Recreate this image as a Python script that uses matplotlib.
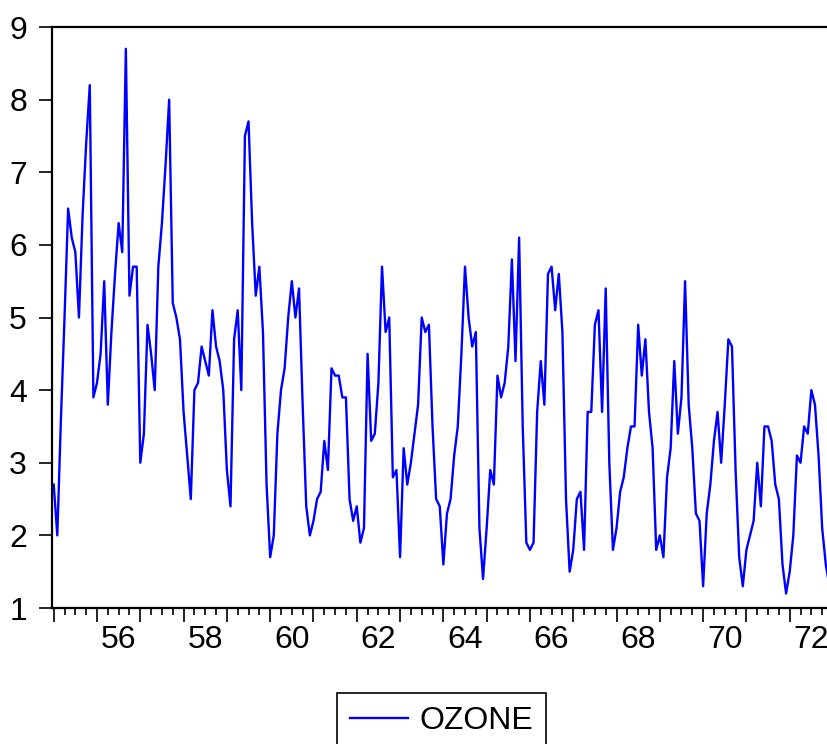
import matplotlib
matplotlib.use('Agg')
import matplotlib.pyplot as plt
from matplotlib.ticker import FixedLocator
import numpy as np

plt.rcParams['font.family'] = ['Liberation Sans', 'DejaVu Sans']

# monthly ozone readings, Jan 1955 .. Dec 1972
oz55 = [2.7, 2.0, 3.6, 5.0, 6.5, 6.1, 5.9, 5.0, 6.4, 7.4, 8.2, 3.9]
oz56 = [4.1, 4.5, 5.5, 3.8, 4.8, 5.6, 6.3, 5.9, 8.7, 5.3, 5.7, 5.7]
oz57 = [3.0, 3.4, 4.9, 4.5, 4.0, 5.7, 6.3, 7.1, 8.0, 5.2, 5.0, 4.7]
oz58 = [3.7, 3.1, 2.5, 4.0, 4.1, 4.6, 4.4, 4.2, 5.1, 4.6, 4.4, 4.0]
oz59 = [2.9, 2.4, 4.7, 5.1, 4.0, 7.5, 7.7, 6.3, 5.3, 5.7, 4.8, 2.7]
oz60 = [1.7, 2.0, 3.4, 4.0, 4.3, 5.0, 5.5, 5.0, 5.4, 3.8, 2.4, 2.0]
oz61 = [2.2, 2.5, 2.6, 3.3, 2.9, 4.3, 4.2, 4.2, 3.9, 3.9, 2.5, 2.2]
oz62 = [2.4, 1.9, 2.1, 4.5, 3.3, 3.4, 4.1, 5.7, 4.8, 5.0, 2.8, 2.9]
oz63 = [1.7, 3.2, 2.7, 3.0, 3.4, 3.8, 5.0, 4.8, 4.9, 3.5, 2.5, 2.4]
oz64 = [1.6, 2.3, 2.5, 3.1, 3.5, 4.5, 5.7, 5.0, 4.6, 4.8, 2.1, 1.4]
oz65 = [2.1, 2.9, 2.7, 4.2, 3.9, 4.1, 4.6, 5.8, 4.4, 6.1, 3.5, 1.9]
oz66 = [1.8, 1.9, 3.7, 4.4, 3.8, 5.6, 5.7, 5.1, 5.6, 4.8, 2.5, 1.5]
oz67 = [1.8, 2.5, 2.6, 1.8, 3.7, 3.7, 4.9, 5.1, 3.7, 5.4, 3.0, 1.8]
oz68 = [2.1, 2.6, 2.8, 3.2, 3.5, 3.5, 4.9, 4.2, 4.7, 3.7, 3.2, 1.8]
oz69 = [2.0, 1.7, 2.8, 3.2, 4.4, 3.4, 3.9, 5.5, 3.8, 3.2, 2.3, 2.2]
oz70 = [1.3, 2.3, 2.7, 3.3, 3.7, 3.0, 3.8, 4.7, 4.6, 2.9, 1.7, 1.3]
oz71 = [1.8, 2.0, 2.2, 3.0, 2.4, 3.5, 3.5, 3.3, 2.7, 2.5, 1.6, 1.2]
oz72 = [1.5, 2.0, 3.1, 3.0, 3.5, 3.4, 4.0, 3.8, 3.1, 2.1, 1.6, 1.3]

ozone = (oz55 + oz56 + oz57 + oz58 + oz59 + oz60 + oz61 + oz62 + oz63 +
         oz64 + oz65 + oz66 + oz67 + oz68 + oz69 + oz70 + oz71 + oz72)
first_year = 1955
t = first_year + np.arange(len(ozone)) / 12.0

year_ticks = list(range(1955, 1973))
label_years = list(range(1956, 1973, 2))

fig = plt.figure(figsize=(8.27, 7.44), dpi=100)
W, H = 827.0, 744.0
ax = fig.add_axes([52 / W, 1 - 608 / H, (833 - 52) / W, (608 - 27) / H])

line, = ax.plot(t, ozone, color='#0000ff', lw=1.7, label='OZONE')

ax.set_xlim(1955 - 1.7 / 43.3, 1973)
ax.set_ylim(1, 9)

ax.set_yticks(range(1, 10))
ax.tick_params(axis='y', direction='out', length=9.5, width=1.2,
               labelsize=23, pad=8.5)

# yearly major ticks without labels, quarterly minor ticks,
# labels sit in the middle of every second year
ax.xaxis.set_major_locator(FixedLocator(year_ticks))
ax.set_xticklabels([''] * len(year_ticks))
quarters = [y + q / 4.0 for y in year_ticks for q in (1, 2, 3)]
ax.xaxis.set_minor_locator(FixedLocator(quarters))
qlabels = []
for q in quarters:
    if q - 0.5 in label_years:
        qlabels.append('%02d' % (int(q) % 100))
    else:
        qlabels.append('')
ax.set_xticklabels(qlabels, minor=True)
ax.tick_params(axis='x', which='major', direction='out', length=10, width=1.2)
ax.tick_params(axis='x', which='minor', direction='out', length=5, width=1.2,
               labelsize=23, pad=7)

for side in ('left', 'bottom', 'top'):
    ax.spines[side].set_linewidth(1.6)
ax.spines['right'].set_visible(False)

leg = fig.legend(handles=[line], loc='upper left',
                 bbox_to_anchor=(337 / W, 1 - 693 / H),
                 fontsize=23, handlelength=1.8, handletextpad=0.37,
                 borderpad=0.41, borderaxespad=0, fancybox=False,
                 framealpha=1, edgecolor='black')
leg.get_frame().set_linewidth(1.2)

fig.savefig('out.png', dpi=100)
